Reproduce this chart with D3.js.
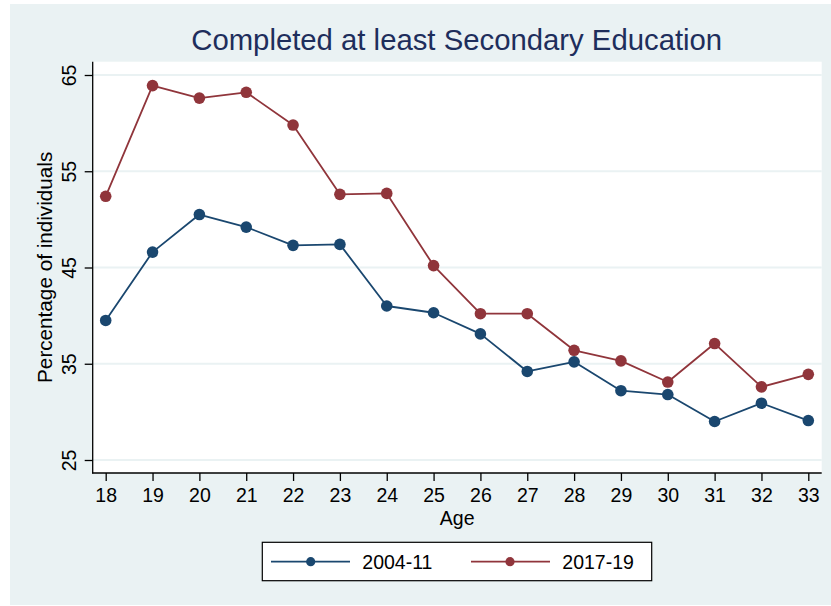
<!DOCTYPE html>
<html>
<head>
<meta charset="utf-8">
<script src="https://cdn.jsdelivr.net/npm/d3@7"></script>
<style>
  html, body { margin: 0; padding: 0; background: #ffffff; }
  svg { display: block; font-family: "Liberation Sans", Arial, Helvetica, sans-serif; }
</style>
</head>
<body>
<svg id="chart" width="831" height="606"></svg>
<script>
// Share of individuals who completed at least secondary education, by age
const ages = [18, 19, 20, 21, 22, 23, 24, 25, 26, 27, 28, 29, 30, 31, 32, 33];
const series2004 = [39.5, 46.6, 50.5, 49.2, 47.3, 47.4, 41.0, 40.3, 38.1, 34.2, 35.2, 32.2, 31.8, 29.0, 30.9, 29.1];
const series2017 = [52.4, 63.9, 62.6, 63.2, 59.8, 52.6, 52.7, 45.2, 40.2, 40.2, 36.4, 35.3, 33.1, 37.1, 32.6, 33.9];
const seriesNames = ["2004-11", "2017-19"];
const yTicks = [25, 35, 45, 55, 65];
const titleText = "Completed at least Secondary Education";
const xTitle = "Age";
const yTitle = "Percentage of individuals";

const navy = "#1a476f";
const maroon = "#90353b";
const bgFill = "#eaf2f3";
const seriesList = [
  { name: seriesNames[0], values: series2004, color: navy },
  { name: seriesNames[1], values: series2017, color: maroon }
];

const svg = d3.select("#chart");

// graph region
svg.append("rect").attr("x", 10).attr("y", 4).attr("width", 821).attr("height", 601).attr("fill", bgFill);

// plot region
const plot = { left: 92.7, top: 61.7, right: 821.7, bottom: 473 };
svg.append("rect")
  .attr("x", plot.left).attr("y", plot.top)
  .attr("width", plot.right - plot.left).attr("height", plot.bottom - plot.top)
  .attr("fill", "#ffffff");

const x = d3.scaleLinear().domain([18, 33]).range([105.7, 808.3]);
const y = d3.scaleLinear().domain([25, 65]).range([460, 75]);

// horizontal gridlines
svg.append("g").selectAll("line").data(yTicks).join("line")
  .attr("x1", plot.left).attr("x2", plot.right)
  .attr("y1", d => y(d)).attr("y2", d => y(d))
  .attr("stroke", bgFill).attr("stroke-width", 2.2);

// y axis
const yAxis = svg.append("g").attr("transform", `translate(${plot.left},0)`)
  .call(d3.axisLeft(y).tickValues(yTicks).tickSize(8).tickPadding(0).tickFormat(d3.format("d")));
yAxis.select(".domain").remove();
yAxis.selectAll(".tick line").attr("stroke", "#000").attr("stroke-width", 1.3);
yAxis.selectAll(".tick text")
  .attr("x", 0).attr("dy", null)
  .attr("transform", "translate(-16.5,0) rotate(-90)")
  .attr("text-anchor", "middle")
  .attr("font-size", 19.5)
  .attr("font-family", "Liberation Sans, Arial, sans-serif")
  .attr("fill", "#000");

// x axis
const xAxis = svg.append("g").attr("transform", `translate(0,${plot.bottom})`)
  .call(d3.axisBottom(x).tickValues(ages).tickSize(8).tickPadding(5).tickFormat(d3.format("d")));
xAxis.select(".domain").remove();
xAxis.selectAll(".tick line").attr("stroke", "#000").attr("stroke-width", 1.3);
xAxis.selectAll(".tick text")
  .attr("dy", null).attr("y", 29.3)
  .attr("font-size", 19.5)
  .attr("font-family", "Liberation Sans, Arial, sans-serif")
  .attr("fill", "#000");

// axis lines
svg.append("line").attr("x1", plot.left).attr("x2", plot.left)
  .attr("y1", plot.top).attr("y2", plot.bottom + 0.6)
  .attr("stroke", "#000").attr("stroke-width", 1.3);
svg.append("line").attr("x1", plot.left - 0.6).attr("x2", plot.right)
  .attr("y1", plot.bottom).attr("y2", plot.bottom)
  .attr("stroke", "#000").attr("stroke-width", 1.3);

// series lines and markers
const line = d3.line().x((d, i) => x(ages[i])).y(d => y(d));
seriesList.forEach(s => {
  svg.append("path").attr("d", line(s.values))
    .attr("fill", "none").attr("stroke", s.color).attr("stroke-width", 1.8)
    .attr("stroke-linejoin", "round");
  svg.append("g").selectAll("circle").data(s.values).join("circle")
    .attr("cx", (d, i) => x(ages[i])).attr("cy", d => y(d))
    .attr("r", 5.8).attr("fill", s.color);
});

// titles
svg.append("text").attr("x", 456.7).attr("y", 50)
  .attr("text-anchor", "middle").attr("font-size", 29.3)
  .attr("fill", "#1e2e5c").text(titleText);
svg.append("text").attr("x", (plot.left + plot.right) / 2).attr("y", 525)
  .attr("text-anchor", "middle").attr("font-size", 19.5)
  .attr("fill", "#000").text(xTitle);
svg.append("text")
  .attr("transform", `translate(51.7,${(plot.top + plot.bottom) / 2}) rotate(-90)`)
  .attr("text-anchor", "middle").attr("font-size", 20.7)
  .attr("fill", "#000").text(yTitle);

// legend
const legend = svg.append("g");
legend.append("rect").attr("x", 262.3).attr("y", 542.3).attr("width", 389.4).attr("height", 38.4)
  .attr("fill", "#ffffff").attr("stroke", "#000").attr("stroke-width", 1.2);
const legendItems = [
  { lx1: 271, lx2: 350, mx: 310.7, tx: 362.3 },
  { lx1: 471, lx2: 550, mx: 510, tx: 562.3 }
];
seriesList.forEach((s, i) => {
  const p = legendItems[i];
  legend.append("line").attr("x1", p.lx1).attr("x2", p.lx2).attr("y1", 561.7).attr("y2", 561.7)
    .attr("stroke", s.color).attr("stroke-width", 1.8);
  legend.append("circle").attr("cx", p.mx).attr("cy", 561.7).attr("r", 4.6).attr("fill", s.color);
  legend.append("text").attr("x", p.tx).attr("y", 569).attr("font-size", 19.5)
    .attr("fill", "#000").text(s.name);
});
</script>
</body>
</html>
